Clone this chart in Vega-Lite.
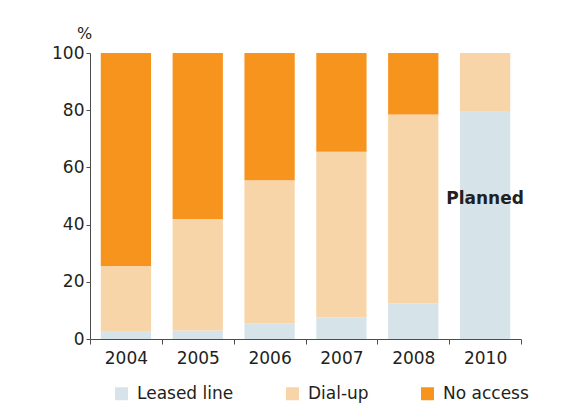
{
  "$schema": "https://vega.github.io/schema/vega-lite/v6.json",
  "width": 431,
  "height": 286,
  "autosize": {"type": "none"},
  "padding": {"left": 90, "top": 53, "right": 62, "bottom": 67},
  "background": "white",
  "config": {
    "font": "DejaVu Sans",
    "view": {"stroke": null},
    "axis": {"labelColor": "#231f20", "titleColor": "#231f20", "domainColor": "#4d4d4d", "tickColor": "#4d4d4d", "labelFontSize": 17, "labelFont": "DejaVu Sans", "grid": false}
  },
  "data": {
    "values": [
      {"year": "2004", "type": "Leased line", "k": 1, "value": 2.5},
      {"year": "2004", "type": "Dial-up", "k": 2, "value": 23},
      {"year": "2004", "type": "No access", "k": 3, "value": 74.5},
      {"year": "2005", "type": "Leased line", "k": 1, "value": 3},
      {"year": "2005", "type": "Dial-up", "k": 2, "value": 39},
      {"year": "2005", "type": "No access", "k": 3, "value": 58},
      {"year": "2006", "type": "Leased line", "k": 1, "value": 5.5},
      {"year": "2006", "type": "Dial-up", "k": 2, "value": 50},
      {"year": "2006", "type": "No access", "k": 3, "value": 44.5},
      {"year": "2007", "type": "Leased line", "k": 1, "value": 7.5},
      {"year": "2007", "type": "Dial-up", "k": 2, "value": 58},
      {"year": "2007", "type": "No access", "k": 3, "value": 34.5},
      {"year": "2008", "type": "Leased line", "k": 1, "value": 12.5},
      {"year": "2008", "type": "Dial-up", "k": 2, "value": 66},
      {"year": "2008", "type": "No access", "k": 3, "value": 21.5},
      {"year": "2010", "type": "Leased line", "k": 1, "value": 79.5},
      {"year": "2010", "type": "Dial-up", "k": 2, "value": 20.5},
      {"year": "2010", "type": "No access", "k": 3, "value": 0}
    ]
  },
  "layer": [
    {
      "mark": {"type": "bar", "width": {"band": 0.7}},
      "encoding": {
        "x": {
          "field": "year", "type": "ordinal",
          "scale": {"paddingInner": 0, "paddingOuter": 0},
          "axis": {"title": null, "labelAngle": 0, "tickBand": "extent", "tickSize": 5, "labelPadding": 6, "labelFontSize": 17, "labelColor": "#231f20"}
        },
        "y": {
          "field": "value", "type": "quantitative", "stack": "zero",
          "scale": {"domain": [0, 100], "nice": false},
          "axis": {"values": [0, 20, 40, 60, 80, 100], "tickSize": 4, "labelPadding": 2, "labelFontSize": 17, "labelColor": "#231f20", "title": "%", "titleAngle": 0, "titleX": -6, "titleY": -15, "titleAlign": "center", "titleBaseline": "alphabetic", "titleFontSize": 16, "titleFontWeight": "normal", "titleFont": "DejaVu Sans"}
        },
        "color": {
          "field": "type", "type": "nominal",
          "scale": {"domain": ["Leased line", "Dial-up", "No access"], "range": ["#d6e4ea", "#f8d5a8", "#f7941e"]},
          "legend": {"title": null, "orient": "none", "legendX": 23, "legendY": 332, "direction": "horizontal", "symbolType": "square", "symbolSize": 169, "symbolStrokeWidth": 0, "labelFontSize": 17, "labelFont": "DejaVu Sans", "labelColor": "#231f20", "labelOffset": 7, "columnPadding": 50}
        },
        "order": {"field": "k", "type": "quantitative"}
      }
    },
    {
      "data": {"values": [{"year": "2010", "value": 49, "label": "Planned"}]},
      "mark": {"type": "text", "fontSize": 17, "fontWeight": "bold", "font": "DejaVu Sans", "color": "#231f20", "align": "center", "baseline": "middle"},
      "encoding": {
        "x": {"field": "year", "type": "ordinal"},
        "y": {"field": "value", "type": "quantitative"},
        "text": {"field": "label"}
      }
    }
  ]
}
